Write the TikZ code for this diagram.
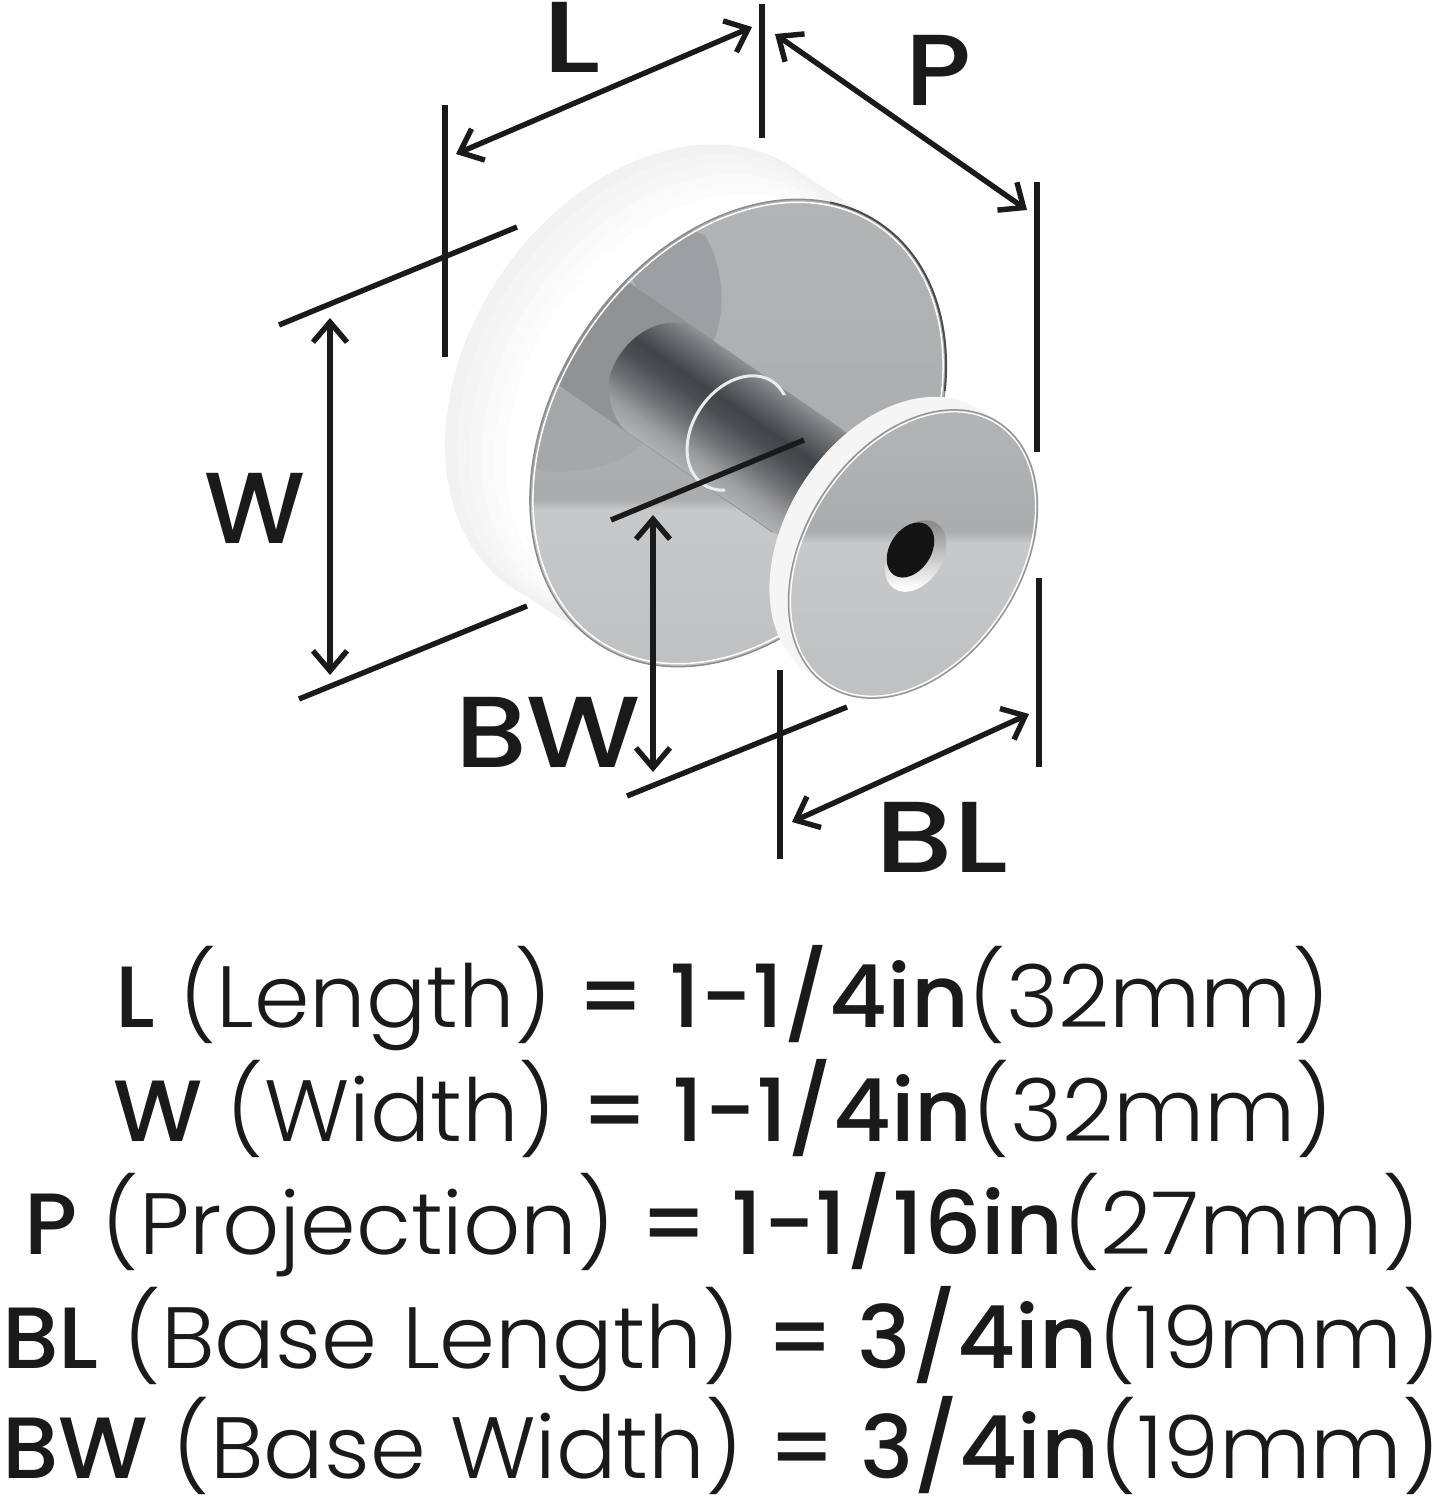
\documentclass[tikz,border=0pt]{standalone}
\usepackage{fontspec}
\usepackage{graphicx}
\setmainfont{Poppins}[UprightFont=* Light,BoldFont=* Medium]
\usetikzlibrary{arrows.meta}
\definecolor{inkblack}{HTML}{1A1A1A}
\definecolor{faceup}{HTML}{B2B4B6}
\definecolor{facemid}{HTML}{AAACAE}
\definecolor{facelow}{HTML}{C6C8CA}
\definecolor{facebot}{HTML}{BEC0C2}
\definecolor{bandgray}{HTML}{909294}
\definecolor{upperarc}{HTML}{9DA0A2}
\definecolor{lowerarc}{HTML}{A5A7A9}
\definecolor{stemA}{HTML}{B0B2B4}
\definecolor{stemB}{HTML}{9A9C9E}
\definecolor{stemC}{HTML}{6F7274}
\definecolor{stemD}{HTML}{4A4E50}
\definecolor{stemE}{HTML}{414548}
\definecolor{stemF}{HTML}{74777A}
\definecolor{stemG}{HTML}{8E9092}
\pgfdeclareverticalshading{stemshade}{100bp}{color(0bp)=(stemA);color(25bp)=(stemA);color(33bp)=(stemB);color(42bp)=(stemC);color(52bp)=(stemD);color(58bp)=(stemE);color(70bp)=(stemF);color(75bp)=(stemG);color(100bp)=(stemG)}
\tikzset{
  dimline/.style={line width=5.4pt,inkblack},
  dimarrow/.style={dimline,{Straight Barb[length=20pt,width=34pt]}-{Straight Barb[length=20pt,width=34pt]}},
  biglabel/.style={inkblack,font=\fontsize{101}{101}\selectfont\bfseries,inner sep=0pt,anchor=base},
  sizeline/.style={inkblack,font=\fontsize{87}{87}\selectfont,inner sep=0pt,anchor=base west},
  baseshape/.style={x radius=253pt,y radius=184pt,rotate=56},
  knobshape/.style={x radius=157pt,y radius=108pt,rotate=57},
}
\begin{document}
\begin{tikzpicture}[x=1pt,y=-1pt]
  \useasboundingbox (0,0) rectangle (1444,1500);
  % base body
  \fill[black!5] (653,378) ellipse [baseshape];
  \fill[black!5] (792,167) -- (877,222) -- (598,643) -- (513,588) -- cycle;
  \foreach \f/\p in {0.98/4,0.96/3,0.94/2,0.92/1,0.90/0}
  \fill[black!\p] (653+400-400*\f,378+260-260*\f) ellipse [x radius=\f*253pt,y radius=\f*184pt,rotate=56];
  % base face
  \begin{scope}
    \clip (738,433) ellipse [baseshape];
    \shade[top color=faceup,bottom color=facemid] (500,190) rectangle (960,499);
    \shade[top color=facemid,bottom color=facelow] (500,499) rectangle (960,510);
    \shade[top color=facelow,bottom color=facebot] (500,510) rectangle (960,680);
    \fill[upperarc] (705,235) .. controls (722,265) and (728,305) .. (713,343) -- (636,287) -- (600,200) -- cycle;
    \fill[lowerarc] (565,390) -- (643,442) .. controls (628,462) and (585,475) .. (541,471) -- (500,450) -- (500,380) -- cycle;
    \fill[bandgray] (595,259) -- (843,430) -- (773,533) -- (525,362) -- cycle;
    \begin{scope}
      \clip (696,329) .. controls (670,312) and (625,330) .. (610,375) .. controls (606,395) and (612,418) .. (626,431) -- (826,568) -- (896,466) -- cycle;
      \begin{scope}[transform canvas={shift={(704,410)},rotate=-34.5}]
        \shade[shading=stemshade] (-220,-62) rectangle (220,62);
      \end{scope}
    \end{scope}
    % collar of the stem
    \begin{scope}
      \clip (680,360) rectangle (792,395) (680,395) rectangle (725,500);
      \draw[black!8,line width=3pt] (738,433) ellipse [x radius=62pt,y radius=45pt,rotate=56];
    \end{scope}
  \end{scope}
  \draw[black!45,line width=1.5pt] (738,433) ellipse [baseshape];
  \draw[white,line width=1.5pt] (738,433) ellipse [x radius=250pt,y radius=181pt,rotate=56];
  \begin{scope}
    \clip (830,190) rectangle (950,390);
    \draw[black!70,line width=2pt] (738,433) ellipse [baseshape];
  \end{scope}
  % knob
  \fill[black!4] (894,541) ellipse [knobshape];
  \fill[black!4] (981,410) -- (1000,423) -- (826,685) -- (807,672) -- cycle;
  \begin{scope}
    \clip (913,554) ellipse [knobshape];
    \shade[top color=faceup,bottom color=facemid] (780,400) rectangle (1045,531);
    \shade[top color=facemid,bottom color=facelow] (780,531) rectangle (1045,543);
    \shade[top color=facelow,bottom color=facebot] (780,543) rectangle (1045,700);
  \end{scope}
  \draw[black!42,line width=1.3pt] (913,554) ellipse [knobshape];
  \draw[white,line width=1.3pt] (913,554) ellipse [x radius=155pt,y radius=106pt,rotate=57];
  % hole
  \shade[top color=black!45,bottom color=white] (915.5,556) ellipse [x radius=39pt,y radius=26.6pt,rotate=57];
  \fill[black!92] (910.5,550) ellipse [x radius=30pt,y radius=20.6pt,rotate=57];
  % dimension lines
  \coordinate (Ltop) at (445,105);
  \coordinate (Lbot) at (445,357);
  \coordinate (Rtop) at (762,4);
  \coordinate (Rbot) at (762,138);
  \coordinate (Ptop) at (1037,182);
  \coordinate (Pbot) at (1037,452);
  \coordinate (Qtop) at (1039,578);
  \coordinate (Qbot) at (1039,767);
  \coordinate (Wa) at (279,325);
  \coordinate (Wb) at (517,227);
  \coordinate (Wc) at (299,699);
  \coordinate (Wd) at (527,606);
  \coordinate (Ba) at (611,520);
  \coordinate (Bb) at (804,440);
  \coordinate (Bc) at (627,796);
  \coordinate (Bd) at (847,707);
  \coordinate (Ctop) at (780,670);
  \coordinate (Cbot) at (780,859);
  \draw[dimline] (Ltop) -- (Lbot);
  \draw[dimline] (Rtop) -- (Rbot);
  \draw[dimline] (Ptop) -- (Pbot);
  \draw[dimline] (Qtop) -- (Qbot);
  \draw[dimline] (Wa) -- (Wb);
  \draw[dimline] (Wc) -- (Wd);
  \draw[dimline] (Ba) -- (Bb);
  \draw[dimline] (Bc) -- (Bd);
  \draw[dimline] (Ctop) -- (Cbot);
  \coordinate (La) at (456,154);
  \coordinate (Lb) at (752,27);
  \coordinate (Pa) at (775,34);
  \coordinate (Pb) at (1027,210);
  \coordinate (Wt) at (330,318);
  \coordinate (Wu) at (330,675);
  \coordinate (BWt) at (653,515);
  \coordinate (BWu) at (653,772);
  \coordinate (BLa) at (792,822);
  \coordinate (BLb) at (1029,714);
  \draw[dimarrow] (La) -- (Lb);
  \draw[dimarrow] (Pa) -- (Pb);
  \draw[dimarrow] (Wt) -- (Wu);
  \draw[dimarrow] (BWt) -- (BWu);
  \draw[dimarrow] (BLa) -- (BLb);
  % labels
  \node[biglabel] (labL) at (572,72) {\scalebox{1.3}[1]{L}};
  \node[biglabel] (labP) at (939,105) {\scalebox{1.1}[1]{P}};
  \node[biglabel] (labW) at (255,543) {W};
  \node[biglabel] (labBW) at (548,767) {\scalebox{1.13}[1]{BW}};
  \node[biglabel] (labBL) at (942,872) {\scalebox{1.22}[1]{BL}};
  % size table
  \node[sizeline] (sizeL) at (115,1027) {\scalebox{1.026}[1]{\textbf{L} (Length) \textbf{= 1-1/4in}(32mm)}};
  \node[sizeline] (sizeW) at (113,1141) {\scalebox{1.026}[1]{\textbf{W} (Width) \textbf{= 1-1/4in}(32mm)}};
  \node[sizeline] (sizeP) at (24,1254) {\scalebox{1.028}[1]{\textbf{P} (Projection) \textbf{= 1-1/16in}(27mm)}};
  \node[sizeline] (sizeBL) at (2,1368) {\scalebox{1.034}[1]{\textbf{BL} (Base Length) \textbf{= 3/4in}(19mm)}};
  \node[sizeline] (sizeBW) at (2,1478) {\scalebox{1.03}[1]{\textbf{BW} (Base Width) \textbf{= 3/4in}(19mm)}};
\end{tikzpicture}
\end{document}
